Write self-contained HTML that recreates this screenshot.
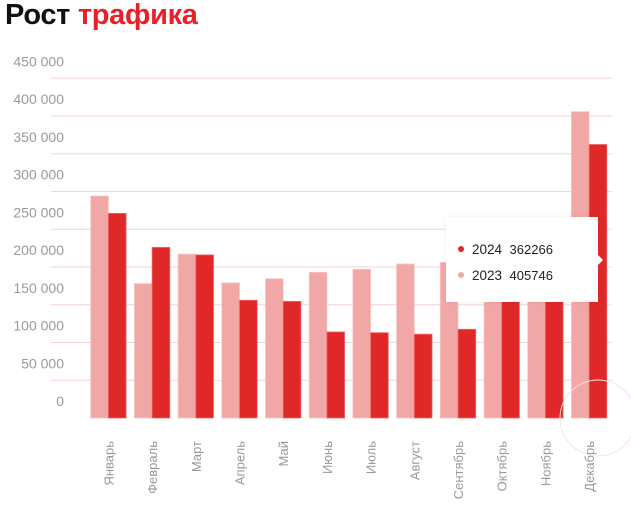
<!DOCTYPE html>
<html><head><meta charset="utf-8"><style>
body{margin:0;width:631px;height:508px;background:#fff;overflow:hidden;font-family:"Liberation Sans",sans-serif;}
.title{position:absolute;left:5px;top:-1px;font-size:29px;font-weight:bold;letter-spacing:-0.3px;color:#111;}
.title span{color:#e8202a;}
</style></head><body>
<div class="title">Рост <span>трафика</span></div>
<svg id="c" width="631" height="508" style="position:absolute;left:0;top:0"></svg>
<script>
const categories=["Январь","Февраль","Март","Апрель","Май","Июнь","Июль","Август","Сентябрь","Октябрь","Ноябрь","Декабрь"];
const series2023=[294000,178000,217000,179000,184500,193000,197000,204000,206000,215000,225000,405746];
const series2024=[271000,226000,216000,156000,154500,114000,113000,111000,117500,180000,185000,362266];
const yTicks=[0,50000,100000,150000,200000,250000,300000,350000,400000,450000];
const tickLabels=["0","50 000","100 000","150 000","200 000","250 000","300 000","350 000","400 000","450 000"];
const NS="http://www.w3.org/2000/svg";
const svg=document.getElementById('c');
function y(v){return 418-v/50000*37.75;}
function x(i){return 90.7+i*43.7;}
const bw=17.7;
function mk(t,a){const e=document.createElementNS(NS,t);for(const k in a)e.setAttribute(k,a[k]);svg.appendChild(e);return e;}
yTicks.forEach((v,i)=>{
  if(v>0){const l=mk('line',{x1:51,x2:612,y1:y(v),y2:y(v),stroke:'#f6d3d3','stroke-width':1});
  
  }
  const t=mk('text',{x:64,y:y(v)-12,'text-anchor':'end','font-size':14,fill:'#9a9a9a','font-family':'Liberation Sans, sans-serif'});
  t.textContent=tickLabels[i];
  
  
});
categories.forEach((c,i)=>{
  const a=mk('rect',{x:x(i),y:y(series2023[i]),width:bw,height:418-y(series2023[i]),fill:'#f2a7a7',stroke:'#f6c6c6','stroke-width':0.8});
  
  
  const b=mk('rect',{x:x(i)+bw,y:y(series2024[i]),width:bw,height:418-y(series2024[i]),fill:'#e02828',stroke:'#ec6a6a','stroke-width':0.8});
  
  
  const cx=x(i)+bw+1;
  const t=mk('text',{x:0,y:0,transform:`translate(${cx+4},441) rotate(-90)`,'text-anchor':'end','font-size':13,fill:'#999','font-family':'Liberation Sans, sans-serif'});
  t.textContent=c;
  
  
});
const circ=mk('circle',{cx:598,cy:418,r:38,fill:'none',stroke:'#fbe0e0','stroke-width':1});


</script>
<div style="position:absolute;left:446px;top:217px;width:152px;height:85px;background:#fff;box-shadow:0 0 6px rgba(0,0,0,0.06);font-size:13.5px;color:#222;">
  <div style="position:absolute;right:-5px;top:38px;width:0;height:0;border-top:5px solid transparent;border-bottom:5px solid transparent;border-left:5px solid #fff;"></div>
  <div style="position:absolute;left:12px;top:25px;white-space:nowrap;"><span style="display:inline-block;width:6px;height:6px;border-radius:50%;background:#e02828;margin-right:8px;vertical-align:2px"></span>2024&nbsp;&nbsp;<span style="font-size:13px">362266</span></div>
  <div style="position:absolute;left:12px;top:51px;white-space:nowrap;"><span style="display:inline-block;width:6px;height:6px;border-radius:50%;background:#f2a7a7;margin-right:8px;vertical-align:2px"></span>2023&nbsp;&nbsp;<span style="font-size:13px">405746</span></div>
</div>
</body></html>
